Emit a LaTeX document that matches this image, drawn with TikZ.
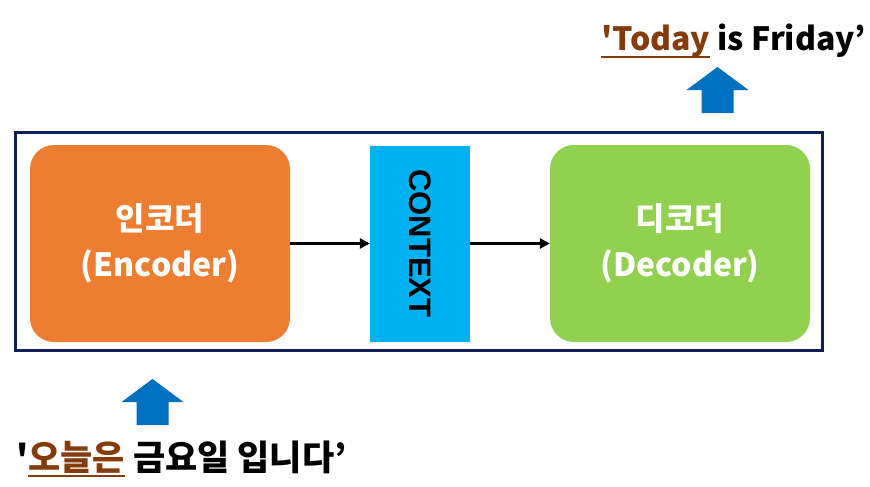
\documentclass[tikz,border=0pt]{standalone}
\usepackage{fontspec}
\newfontfamily\krfont{Noto Sans CJK KR}
\newfontfamily\arialfont{Liberation Sans}
\usetikzlibrary{arrows.meta, positioning}
\definecolor{framenavy}{RGB}{14,30,88}
\definecolor{encorange}{RGB}{237,125,49}
\definecolor{ctxcyan}{RGB}{0,176,240}
\definecolor{decgreen}{RGB}{146,208,80}
\definecolor{arrowblue}{RGB}{0,112,192}
\definecolor{wordbrown}{RGB}{132,60,12}
\newsavebox{\ulbox}
\newcommand{\ulword}[1]{\sbox{\ulbox}{#1}\rlap{\rule[-7pt]{\wd\ulbox}{2pt}}\usebox{\ulbox}}

\begin{document}
\begin{tikzpicture}[
    x=1pt, y=-1pt,
    block/.style={rectangle, rounded corners=24pt, minimum width=260pt,
                  minimum height=197pt, align=center, text=white,
                  font=\krfont\bfseries\fontsize{32}{46}\selectfont},
    ctxbox/.style={rectangle, fill=ctxcyan, minimum width=196pt,
                   minimum height=100pt, rotate=-90,
                   font=\arialfont\bfseries\fontsize{31}{31}\selectfont},
    framebox/.style={rectangle, draw=framenavy, line width=3pt,
                     minimum width=807pt, minimum height=218pt},
    sentence/.style={inner sep=0pt},
    link/.style={-{Triangle[length=10pt,width=10pt]}, line width=3pt},
    upblock/.pic={
        \fill[arrowblue] (0,0) -- (31,23) -- (16,23) -- (16,46)
            -- (-16,46) -- (-16,23) -- (-31,23) -- cycle;
    }
]
    \useasboundingbox[fill=white] (0,0) rectangle (870,487);

    \node[framebox] (frame) at (418.5,241) {};
    \node[block, fill=encorange] (encoder) at (160,243.5) {인코더\\(Encoder)};
    \node[ctxbox] (context) at (420,243.5) {CONTEXT};
    \node[block, fill=decgreen] (decoder) at (680,243.5) {디코더\\(Decoder)};

    \draw[link] (encoder) -- (context);
    \draw[link] (context) -- (decoder);

    % input / output sentences
    \pic at (152.5,379) {upblock};
    \node[sentence, anchor=base west,
          font=\krfont\bfseries\fontsize{35}{40}\selectfont] (source) at (16,470)
        {'\textcolor{wordbrown}{\ulword{오늘은}}\ 금요일\ 입니다’};
    \pic at (717.5,67) {upblock};
    \node[sentence, anchor=base west,
          font=\krfont\bfseries\fontsize{32}{38}\selectfont] (target) at (601,51)
        {\textcolor{wordbrown}{\ulword{'Today}} is Friday’};
\end{tikzpicture}
\end{document}
